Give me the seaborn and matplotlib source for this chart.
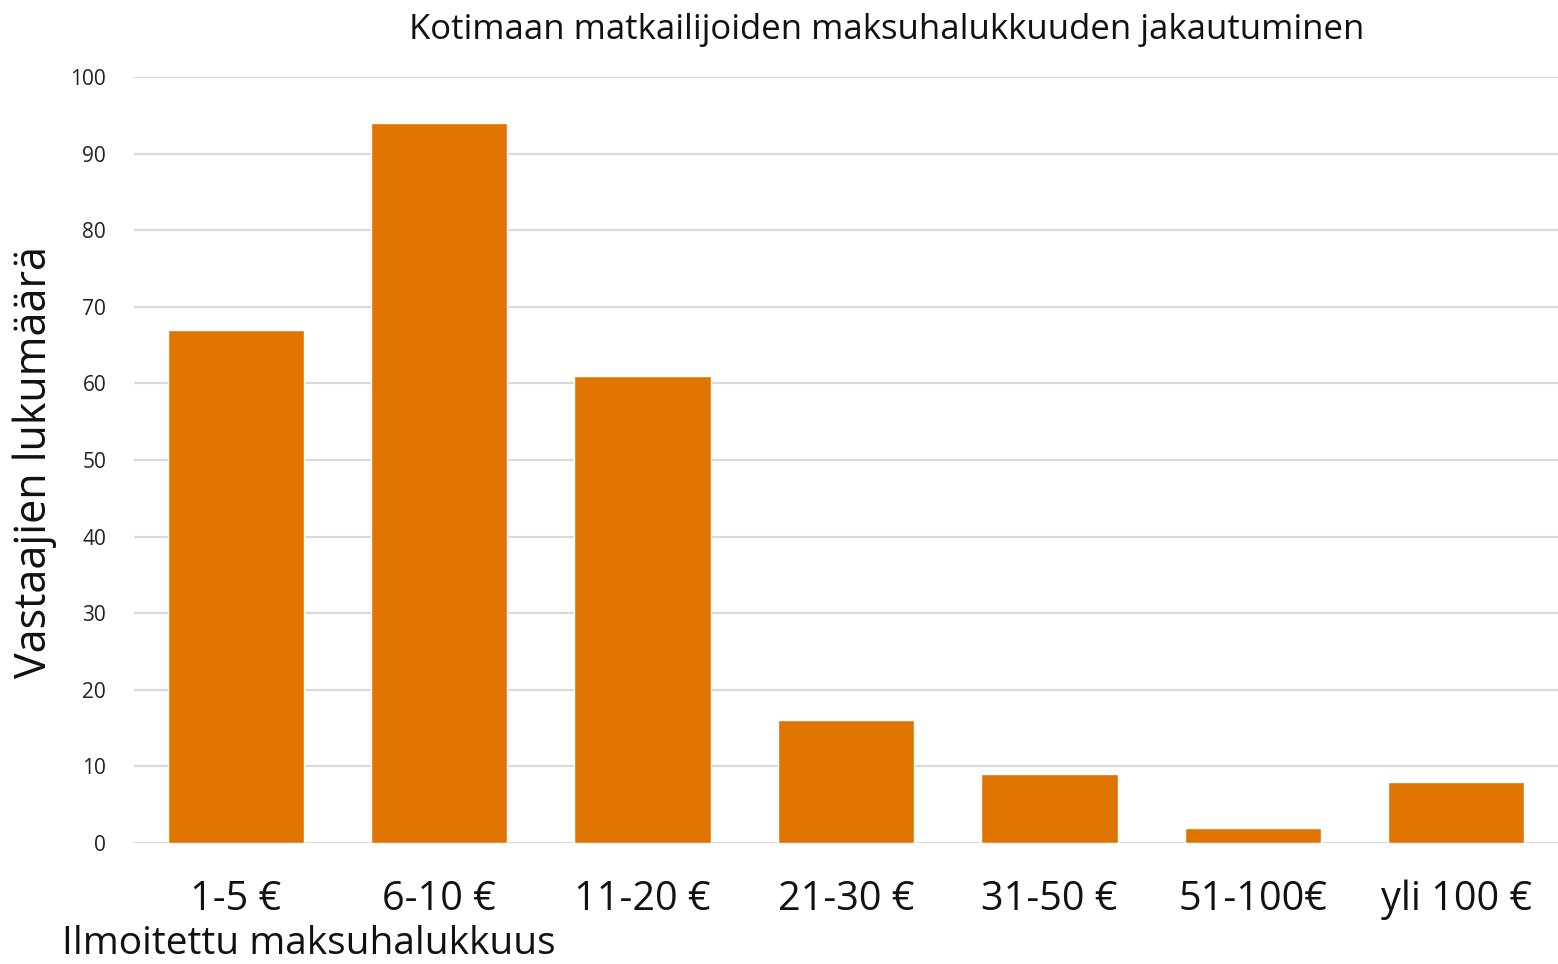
import matplotlib
matplotlib.use("Agg")
import matplotlib.pyplot as plt
import seaborn as sns
import pandas as pd

categories = ["1-5 €", "6-10 €", "11-20 €", "21-30 €", "31-50 €", "51-100€", "yli 100 €"]
counts = [67, 94, 61, 16, 9, 2, 8]
y_ticks = list(range(0, 101, 10))

title = "Kotimaan matkailijoiden maksuhalukkuuden jakautuminen"
x_label = "Ilmoitettu maksuhalukkuus"
y_label = "Vastaajien lukumäärä"

df = pd.DataFrame({"luokka": categories, "lkm": counts})

sns.set_style("white")
plt.rcParams["font.family"] = ["Open Sans", "DejaVu Sans"]

fig = plt.figure(figsize=(15.58, 9.64), dpi=100)
ax = fig.add_axes([134 / 1558, 1 - 843 / 964, 1 - 134 / 1558, (843 - 77) / 964])

# gridlines first so bars sit on top
for t in y_ticks:
    ax.axhline(t, color="#D9D9D9", linewidth=1.6, zorder=0)

sns.barplot(data=df, x="luokka", y="lkm", color="#E07400", saturation=1,
            width=0.67, ax=ax, zorder=2)

ax.set_ylim(0, 100)
ax.set_xlim(-0.5, len(categories) - 0.5)
ax.set_yticks(y_ticks)
ax.tick_params(axis="y", labelsize=15, length=0, pad=20, labelcolor="#222222")
ax.tick_params(axis="x", labelsize=28.5, length=0, pad=26, labelcolor="#111111")
for s in ax.spines.values():
    s.set_visible(False)
ax.set_xlabel("")
ax.set_ylabel("")

fig.text(887 / 1558, 1 - 30 / 964, title, ha="center", va="center", fontsize=25, color="#111111")
fig.text(35 / 1558, 1 - 462 / 964, y_label, rotation=90, ha="center", va="center", fontsize=31, color="#111111")
fig.text(62 / 1558, 1 / 964, x_label, ha="left", va="bottom", fontsize=28, color="#111111")

plt.savefig("out.png", dpi=100)
plt.close()
